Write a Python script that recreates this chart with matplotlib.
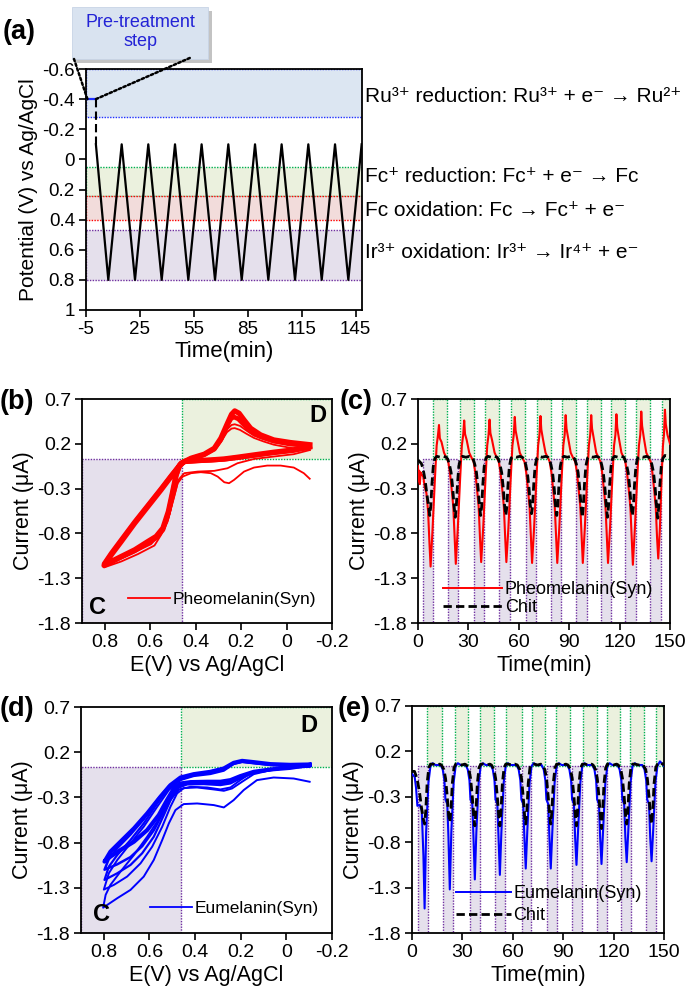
import matplotlib
matplotlib.use('Agg')
import matplotlib.pyplot as plt
from matplotlib.patches import Rectangle, ConnectionPatch
from matplotlib.lines import Line2D

plt.rcParams['font.family'] = ['Liberation Sans', 'DejaVu Sans']
plt.rcParams['axes.unicode_minus'] = False

W, H = 685, 998

# ── colours ────────────────────────────────────────────────────────────────
PURPLE_FILL, PURPLE_EDGE = '#e5e0ec', '#7030a0'
GREEN_FILL, GREEN_EDGE = '#ebf1de', '#00b050'
BLUE_FILL, BLUE_EDGE = '#dce6f2', '#2030ff'
RED_FILL, RED_EDGE = '#f2dcdb', '#ff0000'
RED, BLUE = '#ff0000', '#0000ff'

# ── (a) applied potential ──────────────────────────────────────────────────
A_TIME = [0.5, 7.4, 14.85, 22.25, 29.65, 37.1, 44.5, 51.9, 59.3, 66.75, 74.15,
          81.6, 89.0, 96.4, 103.8, 111.25, 118.65, 126.1, 133.5, 140.9, 148.3]
A_POT = [-0.1, 0.8, -0.1, 0.8, -0.1, 0.8, -0.1, 0.8, -0.1, 0.8, -0.1,
         0.8, -0.1, 0.8, -0.1, 0.8, -0.1, 0.8, -0.1, 0.8, -0.1]
PRE_TIME = [-5, 0.5]
PRE_POT = [-0.4, -0.4]
BAND_LO = [-0.6, 0.05, 0.245, 0.47]
BAND_HI = [-0.28, 0.245, 0.40, 0.80]
BAND_FILL = [BLUE_FILL, GREEN_FILL, RED_FILL, PURPLE_FILL]
BAND_EDGE = [BLUE_EDGE, GREEN_EDGE, RED_EDGE, PURPLE_EDGE]
BAND_TEXT = ['Ru\u00b3\u207a reduction: Ru\u00b3\u207a + e\u207b \u2192 Ru\u00b2\u207a',
             'Fc\u207a reduction: Fc\u207a + e\u207b \u2192 Fc',
             'Fc oxidation: Fc \u2192 Fc\u207a + e\u207b',
             'Ir\u00b3\u207a oxidation: Ir\u00b3\u207a \u2192 Ir\u2074\u207a + e\u207b']
BAND_TEXT_Y = [96, 177, 210, 253]

# ── (b) pheomelanin CV loops (E, I) ────────────────────────────────────────
PH1_E = [-0.102, -0.076, -0.032, 0.026, 0.085, 0.143, 0.187, 0.231, 0.253, 0.274, 0.303, 0.333,
         0.377, 0.420, 0.457, 0.479, 0.501, 0.523, 0.552, 0.581, 0.654, 0.727, 0.803,
         0.771, 0.727, 0.668, 0.610, 0.552, 0.508, 0.464, 0.420, 0.362, 0.318, 0.289, 0.262,
         0.242, 0.228, 0.205, 0.175, 0.143, 0.100, 0.056, -0.017, -0.102]
PH1_I = [-0.19, -0.128, -0.065, -0.043, -0.043, -0.065, -0.110, -0.203, -0.240, -0.229, -0.166, -0.128,
         -0.117, -0.128, -0.166, -0.240, -0.444, -0.667, -0.816, -0.935, -1.031, -1.113, -1.180,
         -1.05, -0.90, -0.70, -0.51, -0.32, -0.17, -0.02, 0.035, 0.078, 0.13, 0.22, 0.33,
         0.37, 0.375, 0.355, 0.31, 0.265, 0.225, 0.19, 0.155, 0.13]
PH2_E = [-0.102, -0.032, 0.056, 0.143, 0.216, 0.260, 0.318, 0.391, 0.450, 0.476, 0.496, 0.520,
         0.552, 0.596, 0.668, 0.741, 0.803,
         0.771, 0.727, 0.668, 0.610, 0.552, 0.508, 0.464, 0.420, 0.362, 0.318, 0.289, 0.262,
         0.242, 0.228, 0.205, 0.175, 0.143, 0.100, 0.056, -0.017, -0.102]
PH2_I = [0.13, 0.084, 0.058, 0.031, -0.017, -0.073, -0.102, -0.110, -0.128, -0.203, -0.407, -0.630,
         -0.797, -0.920, -1.009, -1.094, -1.165,
         -1.045, -0.895, -0.69, -0.505, -0.318, -0.168, -0.018, 0.037, 0.08, 0.14, 0.235, 0.36,
         0.41, 0.418, 0.40, 0.345, 0.29, 0.25, 0.215, 0.18, 0.165]
PH3_E = [-0.102, -0.03, 0.056, 0.143, 0.216, 0.274, 0.333, 0.391, 0.450, 0.471, 0.486, 0.501,
         0.520, 0.544, 0.574, 0.610, 0.668, 0.727, 0.771, 0.803,
         0.771, 0.727, 0.668, 0.610, 0.552, 0.508, 0.464, 0.420, 0.362, 0.318, 0.289, 0.262,
         0.245, 0.232, 0.212, 0.190, 0.160, 0.114, 0.056, -0.017, -0.102]
PH3_I = [0.16, 0.125, 0.10, 0.07, 0.045, 0.027, 0.017, 0.010, 0.0, -0.05, -0.16, -0.35,
         -0.575, -0.76, -0.85, -0.905, -0.995, -1.065, -1.12, -1.14,
         -1.02, -0.87, -0.67, -0.485, -0.30, -0.155, -0.02, 0.035, 0.078, 0.14, 0.245, 0.40,
         0.48, 0.50, 0.478, 0.42, 0.345, 0.28, 0.232, 0.205, 0.18]
PHS_E = [-0.102, -0.03, 0.056, 0.143, 0.216, 0.274, 0.333, 0.391, 0.450, 0.471, 0.486, 0.501,
         0.520, 0.544, 0.574, 0.610, 0.668, 0.727, 0.771, 0.803,
         0.771, 0.727, 0.668, 0.610, 0.552, 0.508, 0.464, 0.420, 0.362, 0.318, 0.289, 0.260,
         0.242, 0.228, 0.209, 0.187, 0.158, 0.114, 0.056, -0.017, -0.102]
PHS_I = [0.17, 0.132, 0.106, 0.076, 0.050, 0.031, 0.020, 0.013, 0.002, -0.043, -0.147, -0.333,
         -0.556, -0.741, -0.834, -0.890, -0.983, -1.057, -1.113, -1.158,
         -1.039, -0.890, -0.686, -0.500, -0.314, -0.166, -0.017, 0.039, 0.084, 0.150, 0.262, 0.429,
         0.529, 0.567, 0.541, 0.466, 0.373, 0.299, 0.243, 0.214, 0.19]

# ── (d) eumelanin CV loops (E, I) ──────────────────────────────────────────
EU1_E = [-0.102, -0.032, 0.056, 0.129, 0.187, 0.231, 0.274, 0.318, 0.391, 0.450, 0.486, 0.515,
         0.544, 0.581, 0.625, 0.683, 0.741, 0.803,
         0.792, 0.771, 0.727, 0.668, 0.610, 0.552, 0.508, 0.471, 0.420, 0.347, 0.289, 0.245,
         0.202, 0.158, 0.085, -0.003, -0.102]
EU1_I = [-0.127, -0.091, -0.080, -0.109, -0.219, -0.330, -0.411, -0.385, -0.367, -0.374, -0.440, -0.587,
         -0.771, -0.992, -1.176, -1.323, -1.415, -1.520,
         -1.378, -1.268, -1.121, -0.937, -0.735, -0.514, -0.330, -0.212, -0.183, -0.190, -0.212, -0.190,
         -0.109, -0.035, 0.009, 0.031, 0.038]
EU2_E = [-0.102, -0.017, 0.070, 0.143, 0.194, 0.238, 0.274, 0.318, 0.391, 0.450, 0.479, 0.508,
         0.544, 0.588, 0.639, 0.698, 0.756, 0.800,
         0.778, 0.741, 0.683, 0.625, 0.566, 0.515, 0.464, 0.406, 0.333, 0.274, 0.231, 0.194,
         0.143, 0.056, -0.032, -0.102]
EU2_I = [0.038, 0.027, 0.001, -0.043, -0.127, -0.201, -0.227, -0.212, -0.190, -0.197, -0.256, -0.403,
         -0.624, -0.845, -1.029, -1.176, -1.268, -1.320,
         -1.139, -0.992, -0.808, -0.624, -0.403, -0.219, -0.109, -0.065, -0.043, -0.006, 0.068, 0.090,
         0.075, 0.053, 0.049, 0.053]
EU3_E = [-0.102, 0.026, 0.143, 0.202, 0.245, 0.289, 0.362, 0.435, 0.471, 0.501, 0.537, 0.581,
         0.632, 0.683, 0.741, 0.797,
         0.778, 0.741, 0.683, 0.625, 0.566, 0.515, 0.464, 0.406, 0.333, 0.274, 0.231, 0.194,
         0.143, 0.056, -0.032, -0.102]
EU3_I = [0.053, 0.016, -0.028, -0.091, -0.146, -0.164, -0.153, -0.157, -0.190, -0.293, -0.495, -0.735,
         -0.918, -1.047, -1.139, -1.213,
         -1.066, -0.937, -0.771, -0.587, -0.367, -0.190, -0.102, -0.054, -0.028, 0.009, 0.075, 0.097,
         0.082, 0.060, 0.053, 0.057]
EU4_E = [-0.102, 0.026, 0.143, 0.202, 0.245, 0.289, 0.362, 0.435, 0.468, 0.500, 0.535, 0.580,
         0.632, 0.683, 0.741, 0.797,
         0.778, 0.741, 0.683, 0.625, 0.566, 0.515, 0.464, 0.406, 0.333, 0.274, 0.231, 0.194,
         0.143, 0.056, -0.032, -0.102]
EU4_I = [0.057, 0.022, -0.022, -0.078, -0.128, -0.145, -0.140, -0.145, -0.170, -0.260, -0.440, -0.660,
         -0.840, -0.960, -1.040, -1.100,
         -0.980, -0.860, -0.710, -0.540, -0.330, -0.175, -0.090, -0.048, -0.022, 0.015, 0.080, 0.101,
         0.086, 0.064, 0.056, 0.060]
EUS_E = [-0.102, -0.017, 0.070, 0.143, 0.202, 0.245, 0.289, 0.347, 0.420, 0.464, 0.493, 0.523,
         0.559, 0.610, 0.668, 0.727, 0.771, 0.797,
         0.771, 0.727, 0.668, 0.610, 0.552, 0.508, 0.464, 0.406, 0.333, 0.274, 0.231, 0.194,
         0.143, 0.070, -0.017, -0.102]
EUS_I = [0.060, 0.027, 0.009, -0.017, -0.065, -0.109, -0.127, -0.127, -0.131, -0.146, -0.201, -0.330,
         -0.495, -0.661, -0.790, -0.882, -0.955, -1.010,
         -0.900, -0.790, -0.643, -0.477, -0.293, -0.164, -0.080, -0.043, -0.017, 0.020, 0.082, 0.104,
         0.090, 0.068, 0.060, 0.064]

# ── (c) current vs time, pheomelanin and chitosan ──────────────────────────
PHEO_T = [0, 0.3, 0.7, 1.1, 1.6, 2.2, 3.0, 4.0, 5.0, 6.0, 6.8, 7.5,
          8.7, 10.1, 11.1, 11.9, 12.5, 13.0, 14.0, 15.5, 17.0,
          18.0, 19.0, 20.0, 21.0, 21.8, 22.5, 23.7, 25.1, 26.1, 26.9, 27.5, 28.0, 29.0, 30.5, 32.0,
          33.1, 34.1, 35.1, 36.1, 36.9, 37.6, 38.8, 40.2, 41.2, 42.0, 42.6, 43.1, 44.1, 45.6, 47.1,
          48.1, 49.1, 50.1, 51.1, 51.9, 52.6, 53.8, 55.2, 56.2, 57.0, 57.6, 58.1, 59.1, 60.6, 62.1,
          63.4, 64.4, 65.4, 66.4, 67.2, 67.9, 69.1, 70.5, 71.5, 72.3, 72.9, 73.4, 74.4, 75.9, 77.4,
          78.4, 79.4, 80.4, 81.4, 82.2, 82.9, 84.1, 85.5, 86.5, 87.3, 87.9, 88.4, 89.4, 90.9, 92.4,
          93.6, 94.6, 95.6, 96.6, 97.4, 98.1, 99.3, 100.7, 101.7, 102.5, 103.1, 103.6, 104.6, 106.1, 107.6,
          108.6, 109.6, 110.6, 111.6, 112.4, 113.1, 114.3, 115.7, 116.7, 117.5, 118.1, 118.6, 119.6, 121.1, 122.6,
          123.4, 124.4, 125.4, 126.4, 127.2, 127.9, 129.1, 130.5, 131.5, 132.3, 132.9, 133.4, 134.4, 135.9, 137.4,
          138.5, 139.5, 140.5, 141.5, 142.3, 143.0, 144.0, 145.0, 145.8, 146.4, 147.0, 147.5, 148.5, 150.0]
PHEO_I = [-0.05, -0.22, -0.1, -0.25, -0.12, -0.15, -0.15, -0.28, -0.35, -0.55, -0.9, -1.17,
          -0.74, -0.18, 0.18, 0.3, 0.41, 0.26, 0.22, 0.1, 0.04,
          0.0, -0.12, -0.3, -0.5, -0.85, -1.14, -0.74, -0.18, 0.18, 0.3, 0.46, 0.31, 0.24, 0.1, 0.04,
          0.0, -0.12, -0.3, -0.5, -0.85, -1.12, -0.74, -0.18, 0.18, 0.3, 0.47, 0.32, 0.24, 0.1, 0.04,
          0.0, -0.12, -0.3, -0.5, -0.85, -1.12, -0.74, -0.18, 0.18, 0.3, 0.50, 0.35, 0.25, 0.1, 0.04,
          0.0, -0.12, -0.3, -0.5, -0.85, -1.13, -0.74, -0.18, 0.18, 0.3, 0.51, 0.36, 0.25, 0.1, 0.04,
          0.0, -0.12, -0.3, -0.5, -0.85, -1.13, -0.74, -0.18, 0.18, 0.3, 0.52, 0.37, 0.26, 0.1, 0.04,
          0.0, -0.12, -0.3, -0.5, -0.85, -1.13, -0.74, -0.18, 0.18, 0.3, 0.52, 0.37, 0.26, 0.1, 0.04,
          0.0, -0.12, -0.3, -0.5, -0.85, -1.13, -0.74, -0.18, 0.18, 0.3, 0.53, 0.38, 0.26, 0.1, 0.04,
          0.0, -0.12, -0.3, -0.5, -0.85, -1.15, -0.74, -0.18, 0.18, 0.3, 0.56, 0.40, 0.27, 0.1, 0.04,
          0.0, -0.12, -0.3, -0.5, -0.85, -1.08, -0.74, -0.18, 0.18, 0.3, 0.58, 0.42, 0.3, 0.2]
CHITC_T = [0, 1.0, 2.0, 3.0, 4.2, 5.2, 6.2, 7.0, 7.6, 8.3, 9.1, 10.1, 11.3, 13.3, 15.3, 16.8,
           17.7, 18.7, 19.7, 20.7, 21.4, 22.2, 22.8, 23.5, 24.3, 25.3, 26.5, 28.5, 30.5, 32.0,
           32.8, 33.8, 34.8, 35.8, 36.5, 37.3, 37.9, 38.6, 39.4, 40.4, 41.6, 43.6, 45.6, 47.1,
           47.8, 48.8, 49.8, 50.8, 51.5, 52.3, 52.9, 53.6, 54.4, 55.4, 56.6, 58.6, 60.6, 62.1,
           63.1, 64.1, 65.1, 66.1, 66.8, 67.6, 68.2, 68.9, 69.7, 70.7, 71.9, 73.9, 75.9, 77.4,
           78.1, 79.1, 80.1, 81.1, 81.8, 82.6, 83.2, 83.9, 84.7, 85.7, 86.9, 88.9, 90.9, 92.4,
           93.3, 94.3, 95.3, 96.3, 97.0, 97.8, 98.4, 99.1, 99.9, 100.9, 102.1, 104.1, 106.1, 107.6,
           108.3, 109.3, 110.3, 111.3, 112.0, 112.8, 113.4, 114.1, 114.9, 115.9, 117.1, 119.1, 121.1, 122.6,
           123.1, 124.1, 125.1, 126.1, 126.8, 127.6, 128.2, 128.9, 129.7, 130.7, 131.9, 133.9, 135.9, 137.4,
           138.2, 139.2, 140.2, 141.2, 141.9, 142.7, 143.3, 144.0, 144.8, 145.8, 147.0, 148.5, 150.0]
CHITC_I = [0.02, 0.0, -0.02, -0.08, -0.2, -0.35, -0.48, -0.6, -0.5, -0.25, -0.05, 0.04, 0.06, 0.05, 0.06, 0.05,
           0.03, -0.03, -0.12, -0.3, -0.48, -0.62, -0.5, -0.25, -0.05, 0.04, 0.06, 0.05, 0.06, 0.05,
           0.03, -0.03, -0.12, -0.3, -0.48, -0.60, -0.5, -0.25, -0.05, 0.04, 0.06, 0.05, 0.06, 0.05,
           0.03, -0.03, -0.12, -0.3, -0.48, -0.60, -0.5, -0.25, -0.05, 0.04, 0.06, 0.05, 0.06, 0.05,
           0.03, -0.03, -0.12, -0.3, -0.48, -0.58, -0.5, -0.25, -0.05, 0.04, 0.06, 0.05, 0.06, 0.05,
           0.03, -0.03, -0.12, -0.3, -0.48, -0.60, -0.5, -0.25, -0.05, 0.04, 0.06, 0.05, 0.06, 0.05,
           0.03, -0.03, -0.12, -0.3, -0.48, -0.62, -0.5, -0.25, -0.05, 0.04, 0.06, 0.05, 0.06, 0.05,
           0.03, -0.03, -0.12, -0.3, -0.48, -0.62, -0.5, -0.25, -0.05, 0.04, 0.06, 0.05, 0.06, 0.05,
           0.03, -0.03, -0.12, -0.3, -0.48, -0.60, -0.5, -0.25, -0.05, 0.04, 0.06, 0.05, 0.06, 0.05,
           0.03, -0.03, -0.12, -0.3, -0.48, -0.63, -0.5, -0.25, -0.05, 0.04, 0.07, 0.06, 0.05]
C_PURPLE_START = [2.8, 17.7, 33.5, 48.5, 64.0, 79.2, 94.2, 108.9, 123.2, 138.3]
C_PURPLE_END = [8.9, 23.8, 39.4, 55.0, 70.3, 85.2, 100.3, 115.0, 129.5, 144.4]
C_GREEN_START = [8.9, 24.8, 39.6, 55.4, 71.0, 86.0, 100.3, 115.0, 130.0, 145.0]
C_GREEN_END = [17.4, 33.3, 48.3, 63.8, 78.9, 94.0, 108.9, 123.2, 138.3, 150.0]

# ── (e) current vs time, eumelanin and chitosan ────────────────────────────
EUM_T = [0, 1.6, 2.4, 3.2, 4.6, 5.8, 6.8, 7.5, 8.4, 9.8, 11.0, 12.3, 14.0, 15.5,
         17.0, 18.3, 19.3, 19.9, 21.0, 21.7, 22.5, 23.4, 24.8, 26.0, 27.3, 29.0, 30.5,
         31.9, 33.2, 34.2, 34.8, 35.9, 36.6, 37.4, 38.3, 39.7, 40.9, 42.2, 43.9, 45.4,
         46.8, 48.1, 49.1, 49.7, 50.8, 51.5, 52.3, 53.2, 54.6, 55.8, 57.1, 58.8, 60.3,
         62.2, 63.5, 64.5, 65.1, 66.2, 66.9, 67.7, 68.6, 70.0, 71.2, 72.5, 74.2, 75.7,
         77.1, 78.4, 79.4, 80.0, 81.1, 81.8, 82.6, 83.5, 84.9, 86.1, 87.4, 89.1, 90.6,
         92.4, 93.7, 94.7, 95.3, 96.4, 97.1, 97.9, 98.8, 100.2, 101.4, 102.7, 104.4, 105.9,
         107.3, 108.6, 109.6, 110.2, 111.3, 112.0, 112.8, 113.7, 115.1, 116.3, 117.6, 119.3, 120.8,
         122.3, 123.6, 124.6, 125.2, 126.3, 127.0, 127.8, 128.7, 130.1, 131.3, 132.6, 134.3, 135.8,
         137.1, 138.4, 139.4, 140.0, 141.1, 141.8, 142.6, 143.5, 144.9, 146.1, 147.6, 149.0, 150.0]
EUM_I = [-0.05, -0.08, -0.2, -0.4, -0.39, -0.45, -0.95, -1.53, -0.69, -0.14, 0.04, 0.07, 0.05, 0.05,
         0.05, 0.0, -0.12, -0.33, -0.38, -0.75, -1.32, -0.69, -0.14, 0.04, 0.07, 0.05, 0.05,
         0.05, 0.0, -0.12, -0.33, -0.38, -0.75, -1.21, -0.69, -0.14, 0.04, 0.07, 0.05, 0.05,
         0.05, 0.0, -0.12, -0.33, -0.38, -0.75, -1.16, -0.69, -0.14, 0.04, 0.07, 0.05, 0.05,
         0.05, 0.0, -0.12, -0.33, -0.38, -0.75, -1.09, -0.69, -0.14, 0.04, 0.07, 0.05, 0.05,
         0.05, 0.0, -0.12, -0.33, -0.38, -0.75, -1.09, -0.69, -0.14, 0.04, 0.07, 0.05, 0.05,
         0.05, 0.0, -0.12, -0.33, -0.38, -0.75, -1.05, -0.69, -0.14, 0.04, 0.07, 0.05, 0.05,
         0.05, 0.0, -0.12, -0.33, -0.38, -0.75, -1.04, -0.69, -0.14, 0.04, 0.07, 0.05, 0.05,
         0.05, 0.0, -0.12, -0.33, -0.38, -0.75, -1.02, -0.69, -0.14, 0.04, 0.07, 0.05, 0.05,
         0.05, 0.0, -0.12, -0.33, -0.38, -0.75, -1.01, -0.69, -0.14, 0.04, 0.09, 0.06, 0.04]
CHITE_T = [0, 1.5, 3.0, 4.5, 5.5, 6.8, 7.5, 8.2, 9.0, 10.0, 11.0, 12.5, 14.5, 16.5,
           17.5, 19.0, 20.0, 21.0, 21.8, 22.5, 23.2, 24.0, 25.0, 26.0, 27.5, 29.5, 31.5,
           32.4, 33.9, 34.9, 35.9, 36.7, 37.4, 38.1, 38.9, 39.9, 40.9, 42.4, 44.4, 46.4,
           47.3, 48.8, 49.8, 50.8, 51.6, 52.3, 53.0, 53.8, 54.8, 55.8, 57.3, 59.3, 61.3,
           62.7, 64.2, 65.2, 66.2, 67.0, 67.7, 68.4, 69.2, 70.2, 71.2, 72.7, 74.7, 76.7,
           77.6, 79.1, 80.1, 81.1, 81.9, 82.6, 83.3, 84.1, 85.1, 86.1, 87.6, 89.6, 91.6,
           92.9, 94.4, 95.4, 96.4, 97.2, 97.9, 98.6, 99.4, 100.4, 101.4, 102.9, 104.9, 106.9,
           107.8, 109.3, 110.3, 111.3, 112.1, 112.8, 113.5, 114.3, 115.3, 116.3, 117.8, 119.8, 121.8,
           122.8, 124.3, 125.3, 126.3, 127.1, 127.8, 128.5, 129.3, 130.3, 131.3, 132.8, 134.8, 136.8,
           137.6, 139.1, 140.1, 141.1, 141.9, 142.6, 143.3, 144.1, 145.1, 146.1, 147.6, 150.0]
CHITE_I = [-0.02, -0.02, -0.1, -0.25, -0.4, -0.55, -0.6, -0.45, -0.15, 0.02, 0.06, 0.06, 0.05, 0.06,
           0.05, 0.0, -0.1, -0.3, -0.5, -0.58, -0.45, -0.15, 0.02, 0.06, 0.06, 0.05, 0.06,
           0.05, 0.0, -0.1, -0.3, -0.5, -0.62, -0.45, -0.15, 0.02, 0.06, 0.06, 0.05, 0.06,
           0.05, 0.0, -0.1, -0.3, -0.5, -0.62, -0.45, -0.15, 0.02, 0.06, 0.06, 0.05, 0.06,
           0.05, 0.0, -0.1, -0.3, -0.5, -0.60, -0.45, -0.15, 0.02, 0.06, 0.06, 0.05, 0.06,
           0.05, 0.0, -0.1, -0.3, -0.5, -0.60, -0.45, -0.15, 0.02, 0.06, 0.06, 0.05, 0.06,
           0.05, 0.0, -0.1, -0.3, -0.5, -0.62, -0.45, -0.15, 0.02, 0.06, 0.06, 0.05, 0.06,
           0.05, 0.0, -0.1, -0.3, -0.5, -0.65, -0.45, -0.15, 0.02, 0.06, 0.06, 0.05, 0.06,
           0.05, 0.0, -0.1, -0.3, -0.5, -0.60, -0.45, -0.15, 0.02, 0.06, 0.06, 0.05, 0.06,
           0.05, 0.0, -0.1, -0.3, -0.5, -0.60, -0.45, -0.15, 0.02, 0.06, 0.08, 0.05]
E_PURPLE_START = [3.6, 18.5, 34.4, 49.7, 65.2, 80.1, 95.4, 109.9, 124.4, 139.1]
E_PURPLE_END = [9.5, 24.4, 40.3, 55.6, 71.1, 86.4, 101.3, 115.8, 130.3, 145.0]
E_GREEN_START = [8.9, 25.4, 40.3, 56.2, 71.7, 86.0, 101.9, 115.8, 129.7, 145.2]
E_GREEN_END = [18.1, 33.4, 48.7, 65.2, 79.1, 94.0, 109.9, 123.8, 138.1, 150.0]

CV_XTICKS = [0.8, 0.6, 0.4, 0.2, 0, -0.2]
CV_XLABELS = ['0.8', '0.6', '0.4', '0.2', '0', '-0.2']
CUR_YTICKS = [0.7, 0.2, -0.3, -0.8, -1.3, -1.8]
CUR_YLABELS = ['0.7', '0.2', '-0.3', '-0.8', '-1.3', '-1.8']
BOUNDARY = 0.035

TICK_FS = 14
LABEL_FS = 15.5


def rect(x0, y0, x1, y1):
    return [x0 / W, 1 - y1 / H, (x1 - x0) / W, (y1 - y0) / H]


def style(ax, fs=TICK_FS):
    for s in ax.spines.values():
        s.set_linewidth(1.3)
    ax.tick_params(direction='out', length=5, width=1.2, labelsize=fs,
                   top=False, right=False, pad=3)


def box(ax, x0, x1, y0, y1, fill, edge):
    ax.add_patch(Rectangle((x0, y0), x1 - x0, y1 - y0, facecolor=fill,
                           edgecolor=edge, ls=(0, (1, 1)), lw=1.0, zorder=0))


fig = plt.figure(figsize=(W / 100, H / 100), dpi=100)

# ── panel (a) ──────────────────────────────────────────────────────────────
ax = fig.add_axes(rect(86, 69, 362, 310))
ax.set_xlim(-5, 148.5)
ax.set_ylim(1, -0.6)
for lo, hi, fc, ec in zip(BAND_LO, BAND_HI, BAND_FILL, BAND_EDGE):
    box(ax, -5, 148.5, lo, hi, fc, ec)
ax.plot(A_TIME, A_POT, color='black', lw=1.6, zorder=3)
ax.plot(PRE_TIME, PRE_POT, color=BLUE_EDGE, lw=1.6, zorder=3)
ax.plot([PRE_TIME[1], A_TIME[0]], [PRE_POT[1], A_POT[0]], color='black', lw=1.5,
        dashes=(4, 2), zorder=3)
ax.set_xticks([-5, 25, 55, 85, 115, 145])
ax.set_yticks([-0.6, -0.4, -0.2, 0, 0.2, 0.4, 0.6, 0.8, 1])
ax.set_yticklabels(['-0.6', '-0.4', '-0.2', '0', '0.2', '0.4', '0.6', '0.8', '1'])
ax.set_xlabel('Time(min)', fontsize=16, labelpad=2)
ax.set_ylabel('Potential (V) vs Ag/AgCl', fontsize=15, labelpad=3)
style(ax, 13.5)
ax_a = ax

for txt, y in zip(BAND_TEXT, BAND_TEXT_Y):
    fig.text(365 / W, 1 - y / H, txt, fontsize=15, va='center', ha='left')

# pre-treatment callout
fig.patches.append(Rectangle((76 / W, 1 - 63 / H), 136 / W, 52 / H, transform=fig.transFigure,
                             facecolor='#9c9c9c', edgecolor='none', alpha=0.6, zorder=1))
fig.patches.append(Rectangle((72 / W, 1 - 59 / H), 136 / W, 52 / H, transform=fig.transFigure,
                             facecolor='#d9e3f0', edgecolor='#c8d4e6', lw=0.6, zorder=2))
fig.text(140 / W, 1 - 32 / H, 'Pre-treatment\nstep', color='#2323d6', fontsize=13,
         ha='center', va='center', linespacing=1.15, zorder=3)
for (px, py), xd in zip([(74, 59), (192, 57)], [-4.2, 0.5]):
    con = ConnectionPatch(xyA=(xd, -0.4), coordsA=ax_a.transData,
                          xyB=(px / W, 1 - py / H), coordsB='figure fraction',
                          ls=(0, (1, 1)), lw=1.8, color='black', zorder=4)
    fig.add_artist(con)

# ── panels (b) and (d): CVs ────────────────────────────────────────────────
def cv_axes(pos, loops, color, dxy, cxy):
    ax = fig.add_axes(rect(*pos))
    ax.set_xlim(0.9, -0.2)
    ax.set_ylim(-1.8, 0.7)
    box(ax, 0.46, 0.9, -1.8, BOUNDARY, PURPLE_FILL, PURPLE_EDGE)
    box(ax, -0.2, 0.46, BOUNDARY, 0.7, GREEN_FILL, GREEN_EDGE)
    for e, i, lw in loops:
        ax.plot(e, i, color=color, lw=lw, solid_joinstyle='round', zorder=3)
    ax.text(*dxy, 'D', fontsize=17, fontweight='bold', ha='center', va='center')
    ax.text(*cxy, 'C', fontsize=17, fontweight='bold', ha='center', va='center')
    ax.set_xticks(CV_XTICKS)
    ax.set_xticklabels(CV_XLABELS)
    ax.set_yticks(CUR_YTICKS)
    ax.set_yticklabels(CUR_YLABELS)
    ax.set_xlabel('E(V) vs Ag/AgCl', fontsize=LABEL_FS, labelpad=3)
    ax.set_ylabel('Current (\u03bcA)', fontsize=LABEL_FS, labelpad=2)
    style(ax)
    return ax


ax_b = cv_axes((82, 399, 332, 623),
               [(PH1_E, PH1_I, 1.3), (PH2_E, PH2_I, 1.3), (PH3_E, PH3_I, 3.4), (PHS_E, PHS_I, 3.8)],
               RED, (-0.14, 0.52), (0.83, -1.63))
ax_b.legend(handles=[Line2D([], [], color=RED, lw=1.3)], labels=['Pheomelanin(Syn)'],
            loc='center left', bbox_to_anchor=(0.185, 0.104), frameon=False, fontsize=12.5,
            handlelength=2.4, handletextpad=0.15, borderpad=0, borderaxespad=0)

ax_d = cv_axes((81, 707, 332, 933),
               [(EU1_E, EU1_I, 1.4), (EU2_E, EU2_I, 1.4), (EU3_E, EU3_I, 1.6),
                (EU4_E, EU4_I, 1.8), (EUS_E, EUS_I, 3.0)],
               BLUE, (-0.1, 0.5), (0.81, -1.6))
ax_d.legend(handles=[Line2D([], [], color=BLUE, lw=1.3)], labels=['Eumelanin(Syn)'],
            loc='center left', bbox_to_anchor=(0.275, 0.11), frameon=False, fontsize=12.5,
            handlelength=2.4, handletextpad=0.15, borderpad=0, borderaxespad=0)

# ── panels (c) and (e): current vs time ────────────────────────────────────
def time_axes(pos, ps, pe, gs, ge, t, i, color, name, tc, ic, leg_xy, hl, ls):
    ax = fig.add_axes(rect(*pos))
    ax.set_xlim(0, 150)
    ax.set_ylim(-1.8, 0.7)
    for a, b in zip(ps, pe):
        box(ax, a, b, -1.8, BOUNDARY, PURPLE_FILL, PURPLE_EDGE)
    for a, b in zip(gs, ge):
        box(ax, a, b, BOUNDARY, 0.7, GREEN_FILL, GREEN_EDGE)
    ax.plot(t, i, color=color, lw=1.5, zorder=3)
    ax.plot(tc, ic, color='black', lw=2.0, dashes=(3, 1.5), zorder=4)
    ax.set_xticks([0, 30, 60, 90, 120, 150])
    ax.set_yticks(CUR_YTICKS)
    ax.set_yticklabels(CUR_YLABELS)
    ax.set_xlabel('Time(min)', fontsize=LABEL_FS, labelpad=3)
    ax.set_ylabel('Current (\u03bcA)', fontsize=LABEL_FS, labelpad=2)
    style(ax)
    ax.legend(handles=[Line2D([], [], color=color, lw=1.4),
                       Line2D([], [], color='black', lw=2.0, dashes=(3, 1.5))],
              labels=[name, 'Chit'], loc='center left', bbox_to_anchor=leg_xy,
              frameon=False, fontsize=13, handlelength=hl, handletextpad=0.15,
              borderpad=0, borderaxespad=0, labelspacing=ls)
    return ax


time_axes((418, 399, 670, 623), C_PURPLE_START, C_PURPLE_END, C_GREEN_START, C_GREEN_END,
          PHEO_T, PHEO_I, RED, 'Pheomelanin(Syn)', CHITC_T, CHITC_I, (0.098, 0.108), 3.3, 0.05)
time_axes((412, 706, 664, 933), E_PURPLE_START, E_PURPLE_END, E_GREEN_START, E_GREEN_END,
          EUM_T, EUM_I, BLUE, 'Eumelanin(Syn)', CHITE_T, CHITE_I, (0.176, 0.125), 3.0, 0.3)

# panel letters
for lbl, x, y in [('(a)', 3, 32), ('(b)', 0, 402), ('(c)', 340, 402),
                  ('(d)', 0, 709), ('(e)', 338, 709)]:
    fig.text(x / W, 1 - y / H, lbl, fontsize=19.5, fontweight='bold', ha='left', va='center')

fig.savefig('out.png', dpi=100)
